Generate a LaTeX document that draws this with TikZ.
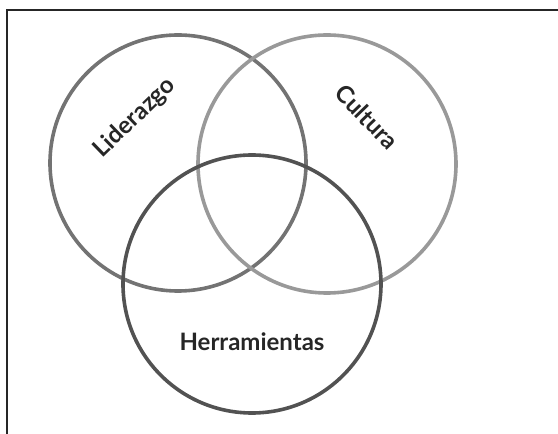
\documentclass[tikz,border=0pt]{standalone}
\usepackage{fontspec}
\setmainfont{Lato}
\begin{document}
\begin{tikzpicture}[x=1pt,y=1pt,
  ring/.style={line width=3.6pt},
  lbl/.style={font=\bfseries\fontsize{24}{28}\selectfont, text=black!85},
]
\useasboundingbox (0,0) rectangle (558,434);
% frame (top and left rules)
\draw[line width=2pt, black!85] (7,0) -- (7,424) -- (558,424);
% three overlapping sets
\node[circle, draw=black!55, ring, minimum size=256pt, inner sep=0pt] (lid) at (178,271) {};
\node[circle, draw=black!40, ring, minimum size=258pt, inner sep=0pt] (cul) at (327,270) {};
\node[circle, draw=black!68, ring, minimum size=258pt, inner sep=0pt] (her) at (252,150) {};
% labels
\node[lbl, rotate=44] (tlid) at (135,316) {Liderazgo};
\node[lbl, rotate=-46] (tcul) at (367,317) {Cultura};
\node[lbl] (ther) at (252,92) {Herramientas};
\end{tikzpicture}
\end{document}
